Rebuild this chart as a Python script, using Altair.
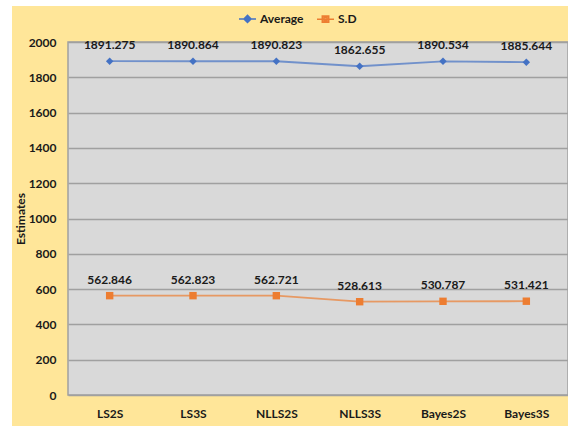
import altair as alt
import pandas as pd

# Estimation methods and the two summary statistics per method
methods = ["LS2S", "LS3S", "NLLS2S", "NLLS3S", "Bayes2S", "Bayes3S"]
average = [1891.275, 1890.864, 1890.823, 1862.655, 1890.534, 1885.644]
sd = [562.846, 562.823, 562.721, 528.613, 530.787, 531.421]
series_names = ["Average", "S.D"]
series_colors = ["#4472C4", "#ED7D31"]
series_shapes = ["diamond", "square"]
y_ticks = [0, 200, 400, 600, 800, 1000, 1200, 1400, 1600, 1800, 2000]

rows = []
for name, values in zip(series_names, [average, sd]):
    for m, v in zip(methods, values):
        rows.append({"method": m, "series": name, "value": v, "label": f"{v:.3f}"})
df = pd.DataFrame(rows)

FONT = "Lato"
W, H = 500, 353
PAD_L, PAD_T, PAD_B = 68, 42, 31

color_scale = alt.Scale(domain=series_names, range=series_colors)

x_enc = alt.X(
    "method:N",
    sort=methods,
    scale=alt.Scale(type="point", padding=0.5),
    axis=alt.Axis(
        title=None, labelAngle=0, labelFontWeight="bold", labelFontSize=12,
        labelColor="#1a1a1a", labelPadding=13, ticks=False, domain=False, grid=False,
        labelFont=FONT,
    ),
)
y_enc = alt.Y(
    "value:Q",
    scale=alt.Scale(domain=[0, 2000], nice=False),
    axis=alt.Axis(
        title="Estimates", values=y_ticks, format="d", labelFontWeight="bold", labelFontSize=12,
        labelColor="#1a1a1a", labelPadding=12, ticks=False, domain=False,
        grid=True, gridColor="#A0A0A0", gridWidth=1.5,
        titleFontWeight="bold", titleFontSize=12, titleColor="#1a1a1a",
        titleX=-48, titleY=H / 2, titleAngle=270, titleAlign="center", titleBaseline="middle",
        labelFont=FONT, titleFont=FONT,
    ),
)

base = alt.Chart(df)

# One line + marker layer pair per series, each with its own colour and symbol
series_layers = []
for name, col, shp in zip(series_names, series_colors, series_shapes):
    sub = base.transform_filter(alt.datum.series == name)
    series_layers.append(
        sub.mark_line(strokeWidth=1.8, opacity=0.7, color=col).encode(x=x_enc, y=y_enc)
    )
    series_layers.append(
        sub.mark_point(filled=True, size=55, opacity=1, shape=shp, color=col).encode(x=x_enc, y=y_enc)
    )

labels = base.mark_text(
    dy=-16, fontSize=12, fontWeight="bold", color="#1a1a1a", font=FONT
).encode(x=x_enc, y=y_enc, text="label:N")

legend_cfg = dict(
    title=None, orient="none", legendX=170, legendY=-33, direction="horizontal",
    labelFont=FONT, labelFontSize=12, labelFontWeight="bold", labelColor="#1a1a1a",
    symbolSize=289, symbolStrokeWidth=1.5, labelOffset=3, columnPadding=10,
)

# Legend symbols: a short line through a solid marker (nested outlines give a solid look)
diamond_key = (
    "M-1,0L1,0M0,-0.42L0.42,0L0,0.42L-0.42,0Z"
    "M0,-0.22L0.22,0L0,0.22L-0.22,0ZM0,-0.42L0,0.42"
)
square_key = (
    "M-1,0L1,0M-0.38,-0.38L0.38,-0.38L0.38,0.38L-0.38,0.38Z"
    "M-0.19,-0.19L0.19,-0.19L0.19,0.19L-0.19,0.19Z"
)

# Legend-carrying layer: invisible in the plot
legend_layer = base.mark_point(filled=True, strokeWidth=1.5, opacity=0).encode(
    x=x_enc, y=y_enc,
    fill=alt.Fill("series:N", scale=color_scale, legend=alt.Legend(**legend_cfg)),
    stroke=alt.Stroke("series:N", scale=color_scale, legend=alt.Legend(**legend_cfg)),
    shape=alt.Shape(
        "series:N",
        scale=alt.Scale(domain=series_names, range=[diamond_key, square_key]),
        legend=alt.Legend(**legend_cfg),
    ),
)

# White margin strips on the left and top edges of the canvas
frame_df = pd.DataFrame({"k": [0]})
left_strip = alt.Chart(frame_df).mark_rect(color="white").encode(
    x=alt.value(-PAD_L), x2=alt.value(-PAD_L + 12),
    y=alt.value(-PAD_T), y2=alt.value(H + PAD_B),
)
top_strip = alt.Chart(frame_df).mark_rect(color="white").encode(
    x=alt.value(-PAD_L), x2=alt.value(W),
    y=alt.value(-PAD_T), y2=alt.value(-PAD_T + 6),
)

chart = (
    alt.layer(*series_layers, labels, legend_layer, left_strip, top_strip)
    .properties(
        width=W, height=H,
        background="#FFE699",
        padding={"left": PAD_L, "top": PAD_T, "right": 0, "bottom": PAD_B},
        autosize=alt.AutoSizeParams(type="none"),
    )
    .configure_view(fill="#D9D9D9", stroke="#A0A0A0", strokeWidth=1.5)
)

chart.save("out.html", embed_options={"renderer": "svg", "actions": False})
